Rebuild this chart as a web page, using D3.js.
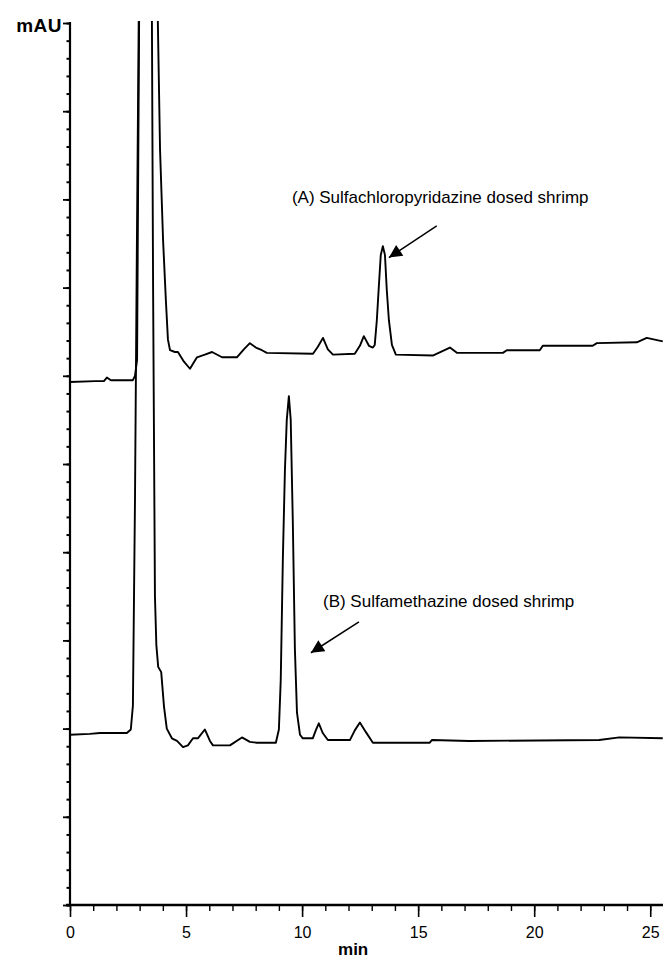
<!DOCTYPE html>
<html>
<head>
<meta charset="utf-8">
<script src="https://cdn.jsdelivr.net/npm/d3@7"></script>
<style>
body { margin: 0; background: #fff; }
text { font-family: Arial, "Liberation Sans", sans-serif; fill: #000; }
</style>
</head>
<body>
<script>
// retention time (min) and absorbance (mAU, arbitrary scale)
var timesA = [0, 1.08, 1.46, 1.59, 1.76, 2.71, 2.80, 2.89, 3.00, 3.30, 3.55, 3.72, 3.88, 4.01, 4.13, 4.22,
  4.31, 4.52, 4.65, 4.91, 5.17, 5.47, 5.81, 6.12, 6.55, 7.19, 7.49, 7.75, 8.01, 8.27, 8.48, 10.47,
  10.68, 10.90, 11.11, 11.33, 12.27, 12.49, 12.66, 12.88, 13.05, 13.13, 13.22, 13.31, 13.39, 13.48, 13.57,
  13.65, 13.74, 13.87, 14.04, 15.63, 16.37, 16.67, 18.65, 18.82, 20.24, 20.37, 22.52, 22.70, 24.42, 24.85, 25.54];
var mauA = [59.3, 59.4, 59.4, 59.8, 59.5, 59.5, 60.0, 61.8, 110, 150, 140, 110, 85.6, 75.4, 68.6, 64.1,
  62.9, 62.7, 62.7, 61.6, 60.8, 62.1, 62.4, 62.7, 62.1, 62.1, 63.0, 63.7, 63.2, 62.9, 62.6, 62.5,
  63.3, 64.3, 63.0, 62.4, 62.5, 63.4, 64.5, 63.4, 63.2, 63.5, 66.3, 70.3, 73.7, 74.7, 73.7,
  69.7, 66.3, 63.5, 62.4, 62.3, 63.2, 62.6, 62.6, 62.9, 62.9, 63.4, 63.4, 63.7, 63.8, 64.3, 63.9];

var timesB = [0, 0.86, 1.29, 2.45, 2.62, 2.71, 2.80, 2.88, 2.96, 3.05, 3.25, 3.45, 3.53, 3.58, 3.66, 3.72,
  3.80, 3.93, 4.05, 4.17, 4.39, 4.61, 4.87, 5.08, 5.30, 5.51, 5.81, 6.03, 6.16, 6.89, 7.41, 7.75,
  8.05, 8.87, 9.00, 9.08, 9.17, 9.26, 9.34, 9.43, 9.51, 9.60, 9.69, 9.78, 9.91, 10.03, 10.46, 10.59,
  10.72, 10.89, 11.11, 12.06, 12.27, 12.49, 12.75, 13.05, 15.50, 15.59, 17.20, 22.80, 23.67, 25.54];
var mauB = [19.3, 19.4, 19.5, 19.5, 19.9, 22.6, 45.9, 74.3, 100.1, 130, 170, 130, 100, 70, 35, 29.5,
  27.0, 26.4, 22.5, 20.0, 18.9, 18.6, 17.9, 18.1, 18.9, 18.9, 19.9, 18.6, 18.1, 18.1, 19.0, 18.5,
  18.4, 18.4, 19.9, 25.5, 39.1, 49.3, 55.0, 57.7, 55.0, 43.5, 29.0, 21.8, 19.3, 18.9, 18.9, 19.8,
  20.6, 19.5, 18.7, 18.7, 19.8, 20.7, 19.6, 18.4, 18.4, 18.7, 18.6, 18.7, 19.0, 18.9];

var xMajor = [0, 5, 10, 15, 20, 25];
var xMinor = d3.range(0, 26, 1);
var yMajor = d3.range(0, 101, 10);
var yMinor = d3.range(0, 101, 2);

var labels = [
  {text: '(A) Sulfachloropyridazine dosed shrimp', t: 9.56, v: 79.6, from: [15.8, 77.0], to: [13.74, 73.4]},
  {text: '(B) Sulfamethazine dosed shrimp', t: 10.9, v: 33.8, from: [12.45, 32.1], to: [10.38, 28.6]}
];

var w = 663;
var h = 960;
var margin = {top: 23, bottom: 55, left: 70, right: 0};

var svg = d3.select('body').append('svg')
            .attr('width', w)
            .attr('height', h);

var x = d3.scaleLinear()
          .domain([0, 25.55])
          .range([margin.left, w - margin.right]);
var y = d3.scaleLinear()
          .domain([0, 100])
          .range([h - margin.bottom, margin.top]);

svg.append('clipPath')
    .attr('id', 'plotClip')
  .append('rect')
    .attr('x', margin.left)
    .attr('y', margin.top - 2)
    .attr('width', w - margin.left)
    .attr('height', h - margin.bottom - margin.top + 2);

// x axis: minor ticks, then labelled major ticks
svg.append('g')
    .attr('transform', 'translate(0,' + y(0) + ')')
    .call(d3.axisBottom(x).tickValues(xMinor).tickSize(6).tickFormat(''))
    .call(function(g){ g.select('.domain').remove() })
    .selectAll('line').attr('stroke', '#000').attr('stroke-width', 1.4);

var xAxisG = svg.append('g')
    .attr('transform', 'translate(0,' + y(0) + ')')
    .call(d3.axisBottom(x).tickValues(xMajor).tickSize(12).tickPadding(10).tickFormat(d3.format('d')));
xAxisG.select('.domain').remove();
xAxisG.selectAll('line').attr('stroke', '#000').attr('stroke-width', 1.6);
xAxisG.selectAll('text')
    .style('font-size', '16px')
    .style('font-family', 'Arial, "Liberation Sans", sans-serif');

svg.append('line')
    .attr('x1', x(0) - 4)
    .attr('x2', w)
    .attr('y1', y(0))
    .attr('y2', y(0))
    .attr('stroke', '#000')
    .attr('stroke-width', 2.4);

svg.append('text')
    .attr('x', x(12.2))
    .attr('y', y(0) + 50)
    .attr('text-anchor', 'middle')
    .style('font-size', '17px')
    .style('font-weight', 'bold')
    .text('min');

// y axis: no labels, just ticks
svg.append('g')
    .attr('transform', 'translate(' + x(0) + ',0)')
    .call(d3.axisLeft(y).tickValues(yMinor).tickSize(3.5).tickFormat(''))
    .call(function(g){ g.select('.domain').remove() })
    .selectAll('line').attr('stroke', '#000').attr('stroke-width', 2);

svg.append('g')
    .attr('transform', 'translate(' + x(0) + ',0)')
    .call(d3.axisLeft(y).tickValues(yMajor).tickSize(7).tickFormat(''))
    .call(function(g){ g.select('.domain').remove() })
    .selectAll('line').attr('stroke', '#000').attr('stroke-width', 1.8);

svg.append('line')
    .attr('x1', x(0))
    .attr('x2', x(0))
    .attr('y1', y(100) - 1)
    .attr('y2', y(0))
    .attr('stroke', '#000')
    .attr('stroke-width', 2.2);

svg.append('text')
    .attr('x', x(0) - 8)
    .attr('y', y(100) + 9)
    .attr('text-anchor', 'end')
    .style('font-size', '19px')
    .style('font-weight', 'bold')
    .style('letter-spacing', '0.5px')
    .text('mAU');

// traces
var line = d3.line()
             .x(function(d){ return x(d[0]) })
             .y(function(d){ return y(d[1]) });

[[timesA, mauA], [timesB, mauB]].forEach(function(s){
  var pts = d3.zip(s[0], s[1]);
  svg.append('path')
      .datum(pts)
      .attr('clip-path', 'url(#plotClip)')
      .attr('fill', 'none')
      .attr('stroke', '#000')
      .attr('stroke-width', 1.9)
      .attr('stroke-linejoin', 'round')
      .attr('d', line);
});

// annotations
svg.append('defs').append('marker')
    .attr('id', 'head')
    .attr('viewBox', '0 0 10 10')
    .attr('refX', 10)
    .attr('refY', 5)
    .attr('markerWidth', 17)
    .attr('markerHeight', 13)
    .attr('markerUnits', 'userSpaceOnUse')
    .attr('orient', 'auto')
  .append('path')
    .attr('d', 'M0,0L10,5L0,10Z')
    .attr('fill', '#000');

labels.forEach(function(l){
  svg.append('text')
      .attr('x', x(l.t))
      .attr('y', y(l.v))
      .style('font-size', '17px')
      .text(l.text);
  svg.append('line')
      .attr('x1', x(l.from[0]))
      .attr('y1', y(l.from[1]))
      .attr('x2', x(l.to[0]))
      .attr('y2', y(l.to[1]))
      .attr('stroke', '#000')
      .attr('stroke-width', 1.5)
      .attr('marker-end', 'url(#head)');
});
</script>
</body>
</html>
